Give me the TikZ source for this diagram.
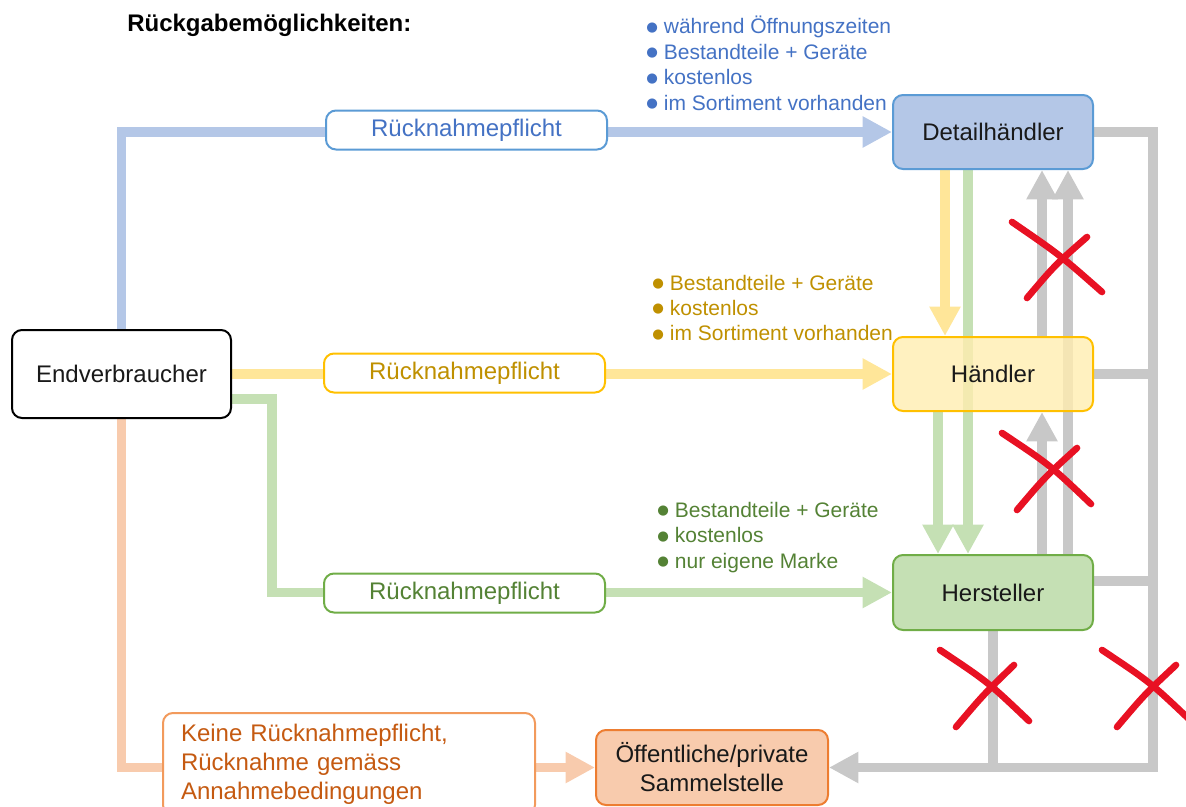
\documentclass[tikz,border=0pt]{standalone}
\usepackage{fontspec}
\setmainfont{Liberation Sans}
\newfontfamily\dejavu{DejaVu Sans}
\usetikzlibrary{arrows.meta}
\pgfdeclarelayer{background}
\pgfsetlayers{background,main}
\definecolor{cblueL}{HTML}{B4C7E7}
\definecolor{cyellowL}{HTML}{FFE699}
\definecolor{cgreenL}{HTML}{C5E0B4}
\definecolor{corangeL}{HTML}{F8CBAD}
\definecolor{cgrayL}{HTML}{C8C8C8}
\definecolor{cblueB}{HTML}{5B9BD5}
\definecolor{cblueT}{HTML}{4472C4}
\definecolor{cyellowB}{HTML}{FFC000}
\definecolor{cyellowT}{HTML}{BF9000}
\definecolor{cyellowF}{HTML}{FFEDB0}
\definecolor{cgreenB}{HTML}{70AD47}
\definecolor{cgreenT}{HTML}{548235}
\definecolor{corangeB}{HTML}{F29A5C}
\definecolor{corangeT}{HTML}{C55A11}
\definecolor{corangeBB}{HTML}{ED7D31}
\definecolor{cred}{HTML}{E81123}
\newcommand\blt{\raisebox{2pt}{\dejavu\fontsize{10}{10}\selectfont ●}\hspace{4.5pt}}
\begin{document}
\begin{tikzpicture}[x=0.75pt,y=-0.75pt,
  box/.style={rounded corners=7.5pt, line width=1.5pt, inner sep=0pt, align=center,
    font=\fontsize{18}{21.75}\selectfont, text=black!90},
  lab/.style={box, fill=white, minimum width=210.75pt, minimum height=29.25pt},
  main/.style={box, minimum width=150pt, minimum height=55.5pt},
  bul/.style={anchor=west, align=left, inner sep=0pt, font=\fontsize{15.75}{19.1}\selectfont},
  conn/.style={line width=7pt},
  arr/.style={-{Triangle[length=22pt,width=22pt]}},
  redx/.style={draw=cred, line width=5pt, line cap=round}]
\useasboundingbox (0,0) rectangle (1186,807);

% title
\node[anchor=west, inner sep=0pt, font=\bfseries\fontsize{18}{22}\selectfont] (T) at (127,25) {Rückgabemöglichkeiten:};

% main nodes
\node[box, draw=black, fill=white, minimum width=164.25pt, minimum height=66pt] (E) at (121.5,374) {Endverbraucher};
\node[main, draw=cblueB, fill=cblueL] (D) at (993,132) {Detailhändler};
\node[main, draw=cyellowB, fill=cyellowF, fill opacity=0.8, text opacity=1] (H) at (993,374) {Händler};
\node[main, draw=cgreenB, fill=cgreenL, minimum height=56.25pt] (M) at (993,592.5) {Hersteller};
\node[box, draw=corangeBB, fill=corangeL, minimum width=174pt, minimum height=56.25pt] (S) at (712,767.5) {Öffentliche/private\\Sammelstelle};

% labels
\node[lab, draw=cblueB, text=cblueT] (LB) at (466.5,130) {Rücknahmepflicht};
\node[lab, draw=cyellowB, text=cyellowT] (LY) at (464.5,373) {Rücknahmepflicht};
\node[lab, draw=cgreenB, text=cgreenT] (LG) at (464.5,593) {Rücknahmepflicht};
\node[box, draw=corangeB, fill=white, text=corangeT, align=left, minimum width=279pt, minimum height=76.5pt, text width=252pt] (LO) at (349,764) {Keine Rücknahmepflicht,\\Rücknahme gemäss\\Annahmebedingungen};

% bullet lists
\node[bul, text=cblueT] (BB) at (646,63.5) {\blt während Öffnungszeiten\\\blt Bestandteile + Geräte\\\blt kostenlos\\\blt im Sortiment vorhanden};
\node[bul, text=cyellowT] (BY) at (652,308) {\blt Bestandteile + Geräte\\\blt kostenlos\\\blt im Sortiment vorhanden};
\node[bul, text=cgreenT] (BG) at (657,537.5) {\blt Bestandteile + Geräte\\\blt kostenlos\\\blt nur eigene Marke};

% helper coordinates
\coordinate (xa) at (945,0);
\coordinate (xb) at (968,0);
\coordinate (xc) at (938,0);
\coordinate (xd) at (1042,0);
\coordinate (xe) at (1068,0);
\coordinate (xr) at (1153,0);
\coordinate (ym) at (0,581);
\coordinate (g1) at (272,399);

\begin{pgfonlayer}{background}
% from Endverbraucher
\draw[conn, draw=cblueL, arr] (E.north) |- (D.west);
\draw[conn, draw=cyellowL, arr] (E.east) -- (H.west);
\draw[conn, draw=cgreenL, arr] (E.east |- g1) -- (g1) |- (M.west);
\draw[conn, draw=corangeL] (E.south) |- (LO.west |- S.west);
\draw[conn, draw=corangeL, arr] (LO.east |- S.west) -- (S.west);
% between dealers
\draw[conn, draw=cyellowL, arr] (D.south -| xa) -- (H.north -| xa);
\draw[conn, draw=cgreenL, arr] (D.south -| xb) -- (M.north -| xb);
\draw[conn, draw=cgreenL, arr] (H.south -| xc) -- (M.north -| xc);
% gray (not allowed) paths
\draw[conn, draw=cgrayL, arr] (H.north -| xd) -- (D.south -| xd);
\draw[conn, draw=cgrayL, arr] (M.north -| xe) -- (D.south -| xe);
\draw[conn, draw=cgrayL, arr] (M.north -| xd) -- (H.south -| xd);
\draw[conn, draw=cgrayL, arr, line join=miter] (D.east) -- (D.east -| xr) -- (xr |- S.east) -- (S.east);
\draw[conn, draw=cgrayL] (H.east) -- (H.east -| xr);
\draw[conn, draw=cgrayL] (M.east |- ym) -- (xr |- ym);
\draw[conn, draw=cgrayL] (M.south) -- (M.south |- S.east);
\end{pgfonlayer}

% red crosses
\draw[redx] (1012,222) .. controls (1060,255) .. (1102,292);
\draw[redx] (1027,298) .. controls (1055,265) .. (1087,237);
\draw[redx] (1002,433) .. controls (1050,465) .. (1091,504);
\draw[redx] (1017,510) .. controls (1045,477) .. (1077,448);
\draw[redx] (940,650) .. controls (988,682) .. (1029,721);
\draw[redx] (956,727) .. controls (984,694) .. (1014,665);
\draw[redx] (1102,650) .. controls (1150,682) .. (1191,721);
\draw[redx] (1117,727) .. controls (1145,694) .. (1176,665);
\end{tikzpicture}
\end{document}
